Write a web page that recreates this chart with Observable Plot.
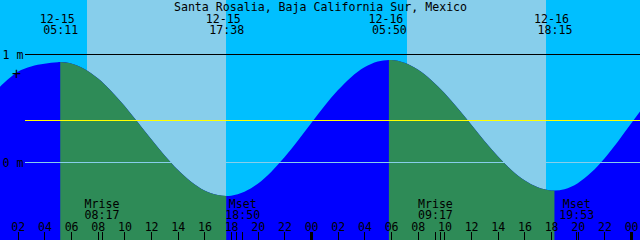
<!DOCTYPE html>
<html><head><meta charset="utf-8">
<script src="https://cdn.jsdelivr.net/npm/d3@7"></script>
<script src="https://cdn.jsdelivr.net/npm/@observablehq/plot@0.6"></script>
<style>html,body{margin:0;padding:0;background:#00BFFF;} #chart svg{display:block}</style>
</head><body><div id="chart"></div>
<script>
const title = "Santa Rosalia, Baja California Sur, Mexico";

// Tide level (m), at hours since 12-15 00:00
const levelHours = [0,1,2,3,4,5,6,7,8,9,10,11,12,13,14,15,16,17,18,19,20,21,22,23,24,
  25,26,27,28,29,30,31,32,33,34,35,36,37,38,39,40,41,42,43,44,45,46,47,48,49];
const levels = [0.62,0.74,0.84,0.89,0.915,0.929,0.917,0.866,0.779,0.663,0.526,0.373,0.217,0.068,-0.068,-0.178,-0.259,-0.302,
  -0.307,-0.271,-0.197,-0.087,0.048,0.202,0.363,0.523,0.668,0.79,0.881,0.936,
  0.949,0.924,0.861,0.765,0.643,0.502,0.351,0.199,0.057,-0.067,-0.165,-0.23,-0.259,
  -0.247,-0.191,-0.093,0.038,0.193,0.36,0.527];

// High / low tides
const extremeDates = ["12-15","12-15","12-16","12-16"];
const extremeTimes = ["05:11","17:38","05:50","18:15"];
const extremeLevels = [0.93,-0.31,0.95,-0.26];
const extremeKinds = ["high","low","high","low"];

// Sun (day sky)
const sunDates = ["12-15","12-16"];
const sunrises = ["07:11","07:11"];
const sunsets = ["17:37","17:37"];

// Moon
const moonDates = ["12-15","12-15","12-16","12-16"];
const moonLabels = ["Mrise","Mset","Mrise","Mset"];
const moonTimes = ["08:17","18:50","09:17","19:53"];

// other event ticks
const otherDates = ["12-15","12-16"];
const otherTimes = ["18:23","09:42"];

// reference levels
const datumLevels = [1, 0];
const datumLabels = ["1 m", "0 m"];
const meanLevel = [0.389];
const markLevel = [{date: "12-15", time: "01:52", level: 0.824}];

const startHour = 2/3, endHour = 48 + 2/3;
const yMin = -0.7176, yMax = 1.5046;

const nightSky = "#00BFFF", daySky = "#87CEEB", flood = "#0000FF", ebb = "#2E8B57";

const toHours = (date, time) => (+date.slice(3) - 15) * 24 + +time.slice(0, 2) + +time.slice(3) / 60;

const extremes = extremeTimes.map((time, i) => ({t: toHours(extremeDates[i], time), date: extremeDates[i], time, kind: extremeKinds[i], level: extremeLevels[i]}));
const tide = levelHours.map((t, i) => ({t, level: levels[i]}))
  .concat(extremes.map(d => ({t: d.t, level: d.level})))
  .sort((a, b) => a.t - b.t);
const ebbIntervals = [];
extremes.forEach((d, i) => { if (d.kind === "high" && extremes[i + 1]) ebbIntervals.push([d.t, extremes[i + 1].t]); });
tide.forEach(d => { const k = ebbIntervals.findIndex(([a, b]) => d.t >= a - 1e-9 && d.t <= b + 1e-9); d.ebb = k < 0 ? null : k; });

const days = sunDates.map((date, i) => ({rise: toHours(date, sunrises[i]), set: toHours(date, sunsets[i])}));
const moons = moonTimes.map((time, i) => ({t: toHours(moonDates[i], time), label: moonLabels[i], time}));
const others = otherTimes.map((time, i) => toHours(otherDates[i], time));
const hourTicks = d3.range(Math.ceil(startHour / 2) * 2, endHour, 2);
const minorTicks = hourTicks.filter(h => h % 24 !== 0);
const midnightTicks = hourTicks.filter(h => h % 24 === 0);
const datums = datumLevels.map((v, i) => ({v, label: datumLabels[i]}));
const marks = markLevel.map(d => ({t: toHours(d.date, d.time), level: d.level}));

const chart = Plot.plot({
  width: 640, height: 240,
  margin: 0,
  x: {domain: [startHour, endHour], axis: null},
  y: {domain: [yMin, yMax], axis: null},
  style: {fontFamily: "'DejaVu Sans Mono', monospace", fontSize: "11.6px", background: nightSky, color: "black"},
  marks: [
    Plot.rect(days, {x1: "rise", x2: "set", fill: daySky, shapeRendering: "crispEdges"}),
    Plot.areaY(tide, {x: "t", y1: yMin, y2: "level", fill: flood, curve: "monotone-x"}),
    Plot.areaY(tide.filter(d => d.ebb !== null), {x: "t", y1: yMin, y2: "level", z: "ebb", fill: ebb, curve: "monotone-x"}),
    Plot.ruleY(datums.filter(d => d.v === 1), {y: "v", stroke: "black", insetLeft: 25, shapeRendering: "crispEdges"}),
    Plot.ruleY(datums.filter(d => d.v === 0), {y: "v", stroke: daySky, insetLeft: 25, shapeRendering: "crispEdges"}),
    Plot.ruleY(meanLevel, {y: d => d, stroke: "yellow", insetLeft: 25, shapeRendering: "crispEdges"}),
    Plot.text(datums, {y: "v", text: "label", frameAnchor: "left", textAnchor: "start", dx: 2}),
    Plot.text(marks, {x: "t", y: "level", text: () => "+", fontSize: 15}),
    Plot.text([title], {text: d => d, frameAnchor: "top", dy: 10, lineAnchor: "bottom"}),
    Plot.text(extremes, {x: "t", text: "date", frameAnchor: "top", dy: 22, dx: -3.5, lineAnchor: "bottom"}),
    Plot.text(extremes, {x: "t", text: "time", frameAnchor: "top", dy: 33, lineAnchor: "bottom"}),
    Plot.text(moons, {x: "t", text: "label", frameAnchor: "bottom", dy: -33, lineAnchor: "bottom"}),
    Plot.text(moons, {x: "t", text: "time", frameAnchor: "bottom", dy: -22, lineAnchor: "bottom"}),
    Plot.text(hourTicks, {x: d => d, text: d => String(d % 24).padStart(2, "0"), frameAnchor: "bottom", dy: -10, lineAnchor: "bottom"}),
    Plot.ruleX(minorTicks, {x: d => d, stroke: "black", insetTop: 232, shapeRendering: "crispEdges"}),
    Plot.ruleX(moons, {x: "t", stroke: "black", insetTop: 232, shapeRendering: "crispEdges"}),
    Plot.ruleX(others, {x: d => d, stroke: "black", insetTop: 232, shapeRendering: "crispEdges"}),
    Plot.ruleX(midnightTicks, {x: d => d, stroke: "black", strokeWidth: 3, insetTop: 232, shapeRendering: "crispEdges"})
  ]
});
document.getElementById("chart").append(chart);
</script>
</body></html>
